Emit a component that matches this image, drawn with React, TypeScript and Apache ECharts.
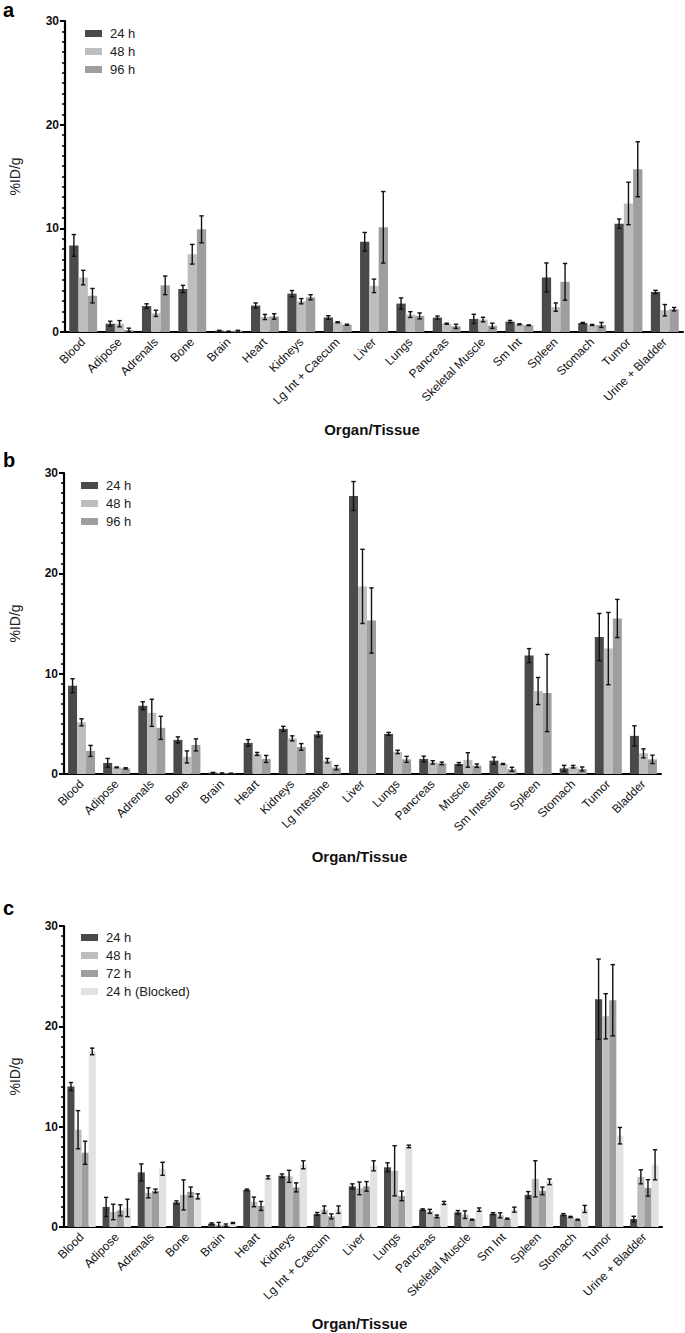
import React, { useEffect, useRef } from "react";
import * as echarts from "echarts";

const FONT = "Arial, 'Liberation Sans', Helvetica, sans-serif";

// categories
const organsA = ["Blood", "Adipose", "Adrenals", "Bone", "Brain", "Heart", "Kidneys", "Lg Int + Caecum", "Liver", "Lungs", "Pancreas", "Skeletal Muscle", "Sm Int", "Spleen", "Stomach", "Tumor", "Urine + Bladder"];
const organsB = ["Blood", "Adipose", "Adrenals", "Bone", "Brain", "Heart", "Kidneys", "Lg Intestine", "Liver", "Lungs", "Pancreas", "Muscle", "Sm Intestine", "Spleen", "Stomach", "Tumor", "Bladder"];
const organsC = organsA;

const namesAB = ["24 h", "48 h", "96 h"];
const namesC = ["24 h", "48 h", "72 h", "24 h (Blocked)"];

// panel a (mean, SD)
const a24 = [8.35, 0.8, 2.5, 4.15, 0.13, 2.55, 3.7, 1.4, 8.7, 2.74, 1.39, 1.26, 1.0, 5.26, 0.87, 10.45, 3.87];
const a24sd = [1.05, 0.24, 0.22, 0.35, 0.03, 0.25, 0.3, 0.17, 0.9, 0.55, 0.15, 0.45, 0.12, 1.4, 0.05, 0.45, 0.15];
const a48 = [5.25, 0.8, 1.8, 7.5, 0.06, 1.45, 2.97, 0.94, 4.45, 1.68, 0.8, 1.2, 0.74, 2.4, 0.68, 12.4, 2.1];
const a48sd = [0.7, 0.3, 0.3, 0.95, 0.02, 0.25, 0.25, 0.05, 0.65, 0.28, 0.05, 0.22, 0.05, 0.4, 0.05, 2.05, 0.55];
const a96 = [3.5, 0.2, 4.5, 9.9, 0.13, 1.5, 3.35, 0.7, 10.1, 1.55, 0.55, 0.6, 0.65, 4.84, 0.68, 15.7, 2.2];
const a96sd = [0.7, 0.17, 0.9, 1.3, 0.03, 0.26, 0.25, 0.05, 3.45, 0.29, 0.2, 0.25, 0.04, 1.77, 0.24, 2.65, 0.17];

// panel b
const b24 = [8.8, 1.1, 6.8, 3.4, 0.13, 3.1, 4.5, 3.95, 27.7, 4.0, 1.5, 1.0, 1.33, 11.8, 0.56, 13.65, 3.8];
const b24sd = [0.7, 0.45, 0.4, 0.3, 0.03, 0.33, 0.25, 0.25, 1.45, 0.15, 0.28, 0.14, 0.35, 0.7, 0.3, 2.35, 1.0];
const b48 = [5.15, 0.66, 6.1, 1.7, 0.08, 2.0, 3.55, 1.33, 18.7, 2.2, 1.16, 1.4, 1.0, 8.27, 0.73, 12.5, 2.06];
const b48sd = [0.35, 0.04, 1.35, 0.6, 0.02, 0.15, 0.25, 0.22, 3.7, 0.17, 0.17, 0.72, 0.05, 1.35, 0.13, 3.6, 0.45];
const b96 = [2.3, 0.56, 4.6, 2.9, 0.06, 1.5, 2.7, 0.63, 15.3, 1.46, 1.06, 0.83, 0.47, 8.07, 0.5, 15.5, 1.46];
const b96sd = [0.55, 0.06, 1.15, 0.6, 0.02, 0.35, 0.33, 0.21, 3.25, 0.3, 0.13, 0.17, 0.2, 3.85, 0.2, 1.9, 0.42];

// panel c
const c24 = [14.0, 2.0, 5.44, 2.45, 0.33, 3.7, 5.1, 1.3, 4.05, 5.95, 1.73, 1.46, 1.33, 3.2, 1.23, 22.7, 0.8];
const c24sd = [0.4, 0.95, 0.85, 0.15, 0.08, 0.08, 0.18, 0.15, 0.25, 0.45, 0.08, 0.18, 0.1, 0.33, 0.1, 4.0, 0.27];
const c48 = [9.7, 1.5, 3.4, 3.2, 0.23, 2.5, 5.05, 1.73, 3.85, 5.6, 1.56, 1.23, 1.16, 4.8, 1.0, 21.0, 5.0];
const c48sd = [1.9, 0.77, 0.5, 1.5, 0.23, 0.48, 0.6, 0.37, 0.63, 2.5, 0.2, 0.38, 0.25, 1.8, 0.06, 2.25, 0.7];
const c72 = [7.4, 1.66, 3.6, 3.5, 0.17, 2.1, 3.95, 1.06, 4.05, 3.1, 1.06, 0.73, 0.83, 3.6, 0.73, 22.6, 3.9];
const c72sd = [1.15, 0.55, 0.18, 0.48, 0.13, 0.45, 0.45, 0.25, 0.48, 0.48, 0.13, 0.05, 0.05, 0.38, 0.05, 3.55, 0.82];
const cBlk = [17.5, 1.9, 5.8, 3.05, 0.4, 4.95, 6.2, 1.73, 6.1, 8.03, 2.4, 1.73, 1.73, 4.5, 1.8, 9.1, 6.2];
const cBlksd = [0.33, 0.87, 0.65, 0.25, 0.05, 0.15, 0.4, 0.37, 0.5, 0.13, 0.15, 0.17, 0.25, 0.28, 0.35, 0.82, 1.5];

const yTicks = [0, 10, 20, 30];

const GREYS = ["#4a4a4a", "#bebebe", "#9e9e9e", "#e2e2e2"];

const panels = [
  { letter: "a", letterY: 10, cats: organsA, names: namesAB, means: [a24, a48, a96], sds: [a24sd, a48sd, a96sd], grid: { left: 61, top: 21, width: 622, height: 311 }, barWidth: 9.3, legend: { left: 80, top: 22 }, titleY: 429, nameGap: 43 },
  { letter: "b", letterY: 460, cats: organsB, names: namesAB, means: [b24, b48, b96], sds: [b24sd, b48sd, b96sd], grid: { left: 58, top: 473, width: 603, height: 301 }, barWidth: 9, legend: { left: 76, top: 474 }, titleY: 856, nameGap: 42 },
  { letter: "c", letterY: 908, cats: organsC, names: namesC, means: [c24, c48, c72, cBlk], sds: [c24sd, c48sd, c72sd, cBlksd], grid: { left: 57, top: 926, width: 605, height: 301 }, barWidth: 7.1, legend: { left: 76, top: 926 }, titleY: 1323, nameGap: 42 },
];

function buildOption(): echarts.EChartsOption {
  const series: any[] = [];
  panels.forEach((p, pi) => {
    const n = p.names.length;
    p.names.forEach((name, si) => {
      const color = name === "72 h" || name === "96 h" ? GREYS[2] : name === "48 h" ? GREYS[1] : si === 3 ? GREYS[3] : GREYS[0];
      series.push({
        type: "bar",
        name,
        xAxisIndex: pi,
        yAxisIndex: pi,
        barWidth: p.barWidth,
        barGap: "0%",
        itemStyle: { color },
        emphasis: { disabled: true },
        data: p.means[si],
      });
      const offset = (si - (n - 1) / 2) * p.barWidth;
      series.push({
        type: "custom",
        name: name + " SD",
        xAxisIndex: pi,
        yAxisIndex: pi,
        z: 5,
        silent: true,
        data: p.means[si].map((m, i) => [i, m, p.sds[si][i]]),
        renderItem: (params: any, api: any) => {
          const cat = api.value(0);
          const m = api.value(1);
          const sd = api.value(2);
          const top = api.coord([cat, m + sd]);
          const bot = api.coord([cat, Math.max(0, m - sd)]);
          const x = top[0] + offset;
          const cap = 2.2;
          const style = { stroke: "#111", lineWidth: 1.4 };
          return {
            type: "group",
            children: [
              { type: "line", shape: { x1: x, y1: top[1], x2: x, y2: bot[1] }, style },
              { type: "line", shape: { x1: x - cap, y1: top[1], x2: x + cap, y2: top[1] }, style },
              { type: "line", shape: { x1: x - cap, y1: bot[1], x2: x + cap, y2: bot[1] }, style },
            ],
          };
        },
      });
    });
  });

  const graphic: any[] = [];
  panels.forEach((p) => {
    graphic.push({
      type: "text",
      x: 3,
      y: p.letterY,
      style: { text: p.letter, font: `bold 20px ${FONT}`, fill: "#000", verticalAlign: "middle" },
    });
    graphic.push({
      type: "text",
      x: p.grid.left + p.grid.width / 2,
      y: p.titleY,
      style: { text: "Organ/Tissue", font: `bold 15px ${FONT}`, fill: "#111", align: "center", verticalAlign: "middle" },
    });
  });

  return {
    animation: false,
    backgroundColor: "#ffffff",
    grid: panels.map((p) => ({ ...p.grid, containLabel: false })),
    xAxis: panels.map((p, i) => ({
      type: "category",
      gridIndex: i,
      data: p.cats,
      axisLine: { lineStyle: { color: "#000", width: 2 } },
      axisTick: { alignWithLabel: true, length: 5, lineStyle: { color: "#000", width: 2 } },
      axisLabel: { rotate: 45, interval: 0, fontSize: 12, fontFamily: FONT, color: "#111", margin: 8 },
    })),
    yAxis: panels.map((p, i) => ({
      type: "value",
      gridIndex: i,
      min: yTicks[0],
      max: yTicks[yTicks.length - 1],
      interval: 10,
      name: "%ID/g",
      nameLocation: "middle",
      nameGap: p.nameGap,
      nameTextStyle: { fontSize: 14, fontFamily: FONT, color: "#222" },
      axisLine: { show: true, lineStyle: { color: "#000", width: 2.2 } },
      axisTick: { show: true, length: 5, lineStyle: { color: "#000", width: 2 } },
      minorTick: { show: true, splitNumber: 10, length: 3, lineStyle: { color: "#000", width: 1.5 } },
      splitLine: { show: false },
      axisLabel: { fontSize: 12, fontWeight: "bold", fontFamily: FONT, color: "#111", margin: 6 },
    })),
    legend: panels.map((p) => ({
      left: p.legend.left,
      top: p.legend.top,
      orient: "vertical",
      icon: "rect",
      itemWidth: 17,
      itemHeight: 7,
      itemGap: 5,
      selectedMode: false,
      data: p.names,
      textStyle: { fontSize: 13, fontFamily: FONT, color: "#222", padding: [0, 0, 0, 3] },
    })),
    graphic,
    series,
  };
}

export default function App() {
  const ref = useRef<HTMLDivElement | null>(null);

  useEffect(() => {
    if (!ref.current) return;
    const chart = echarts.init(ref.current, undefined, { renderer: "svg" });
    chart.setOption(buildOption());
    return () => chart.dispose();
  }, []);

  return (
    <div
      ref={ref}
      style={{ position: "absolute", left: 0, top: 0, width: 685, height: 1333, background: "#fff" }}
    />
  );
}
